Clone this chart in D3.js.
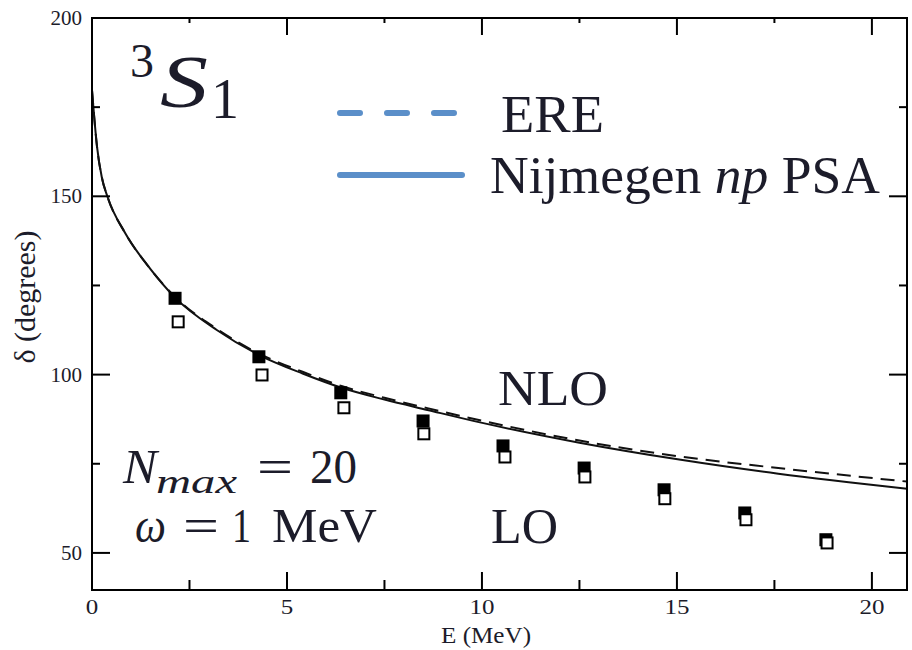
<!DOCTYPE html>
<html>
<head>
<meta charset="utf-8">
<script src="https://cdn.jsdelivr.net/npm/d3@7"></script>
<style>
  body { margin: 0; background: #fff; }
</style>
</head>
<body>
<div id="chart"></div>
<script>
// tick values
var xMajor = [0, 5, 10, 15, 20];
var xMinor = [2.5, 7.5, 12.5, 17.5];
var yMajor = [50, 100, 150, 200];
var yMinor = [75, 125, 175];

// Nijmegen np PSA curve (solid) and ERE curve (dashed)
var curveE     = [0, 0.13, 0.25, 0.4, 0.85, 1.5, 2.13, 3.2, 4.3, 5.4, 6.4, 7.5, 8.6, 9.95, 12.5, 15.1, 17.6, 20.9];
var psaDelta   = [179.8, 163.8, 155.4, 149.8, 139.7, 129.6, 121.6, 112.5, 105.4, 100.3, 96.3, 93.0, 90.1, 86.6, 80.9, 76.1, 72.2, 68.0];
var ereDelta   = [179.8, 163.8, 155.4, 149.8, 139.7, 129.6, 121.8, 112.8, 105.8, 100.8, 96.8, 93.5, 90.6, 87.2, 81.5, 77.0, 73.8, 70.0];

// NLO (filled squares) and LO (open squares)
var nloE     = [2.13, 4.28, 6.38, 8.49, 10.54, 12.62, 14.67, 16.74, 18.82];
var nloDelta = [121.4, 105.0, 94.9, 87.0, 80.0, 73.8, 67.7, 61.2, 53.7];
var loE      = [2.21, 4.36, 6.46, 8.51, 10.59, 12.64, 14.69, 16.77, 18.85];
var loDelta  = [114.8, 99.9, 90.7, 83.4, 76.9, 71.3, 65.2, 59.3, 52.8];

(function draw() {
    "use strict";

    var width = 912, height = 650;
    var plotLeft = 92, plotRight = 907, plotTop = 18, plotBottom = 590;
    var serif = "'Liberation Serif', 'Times New Roman', Times, serif";

    var svg = d3.select("#chart").append("svg")
        .attr("width", width)
        .attr("height", height)
        .attr("font-family", serif);

    var x = d3.scaleLinear().domain([0, 20.9]).range([plotLeft, plotRight]);
    var y = d3.scaleLinear().domain([39.6, 200]).range([plotBottom, plotTop]);

    var zip = function(xs, ys) {
        return xs.map(function(v, i) { return [v, ys[i]]; });
    };

    // clip for curves
    svg.append("clipPath").attr("id", "plotclip")
        .append("rect")
        .attr("x", plotLeft - 2).attr("y", plotTop)
        .attr("width", plotRight - plotLeft + 2).attr("height", plotBottom - plotTop);

    var line = d3.line()
        .x(function(d) { return x(d[0]); })
        .y(function(d) { return y(d[1]); })
        .curve(d3.curveMonotoneX);

    var plot = svg.append("g").attr("clip-path", "url(#plotclip)");

    plot.append("path")
        .datum(zip(curveE, ereDelta))
        .attr("d", line)
        .attr("fill", "none")
        .attr("stroke", "#111")
        .attr("stroke-width", 2)
        .attr("stroke-dasharray", "14,8");

    plot.append("path")
        .datum(zip(curveE, psaDelta))
        .attr("d", line)
        .attr("fill", "none")
        .attr("stroke", "#111")
        .attr("stroke-width", 2);

    var sq = 13;
    svg.append("g").selectAll("rect")
        .data(zip(nloE, nloDelta))
        .enter().append("rect")
        .attr("x", function(d) { return x(d[0]) - sq / 2; })
        .attr("y", function(d) { return y(d[1]) - sq / 2; })
        .attr("width", sq).attr("height", sq)
        .attr("fill", "#000");

    svg.append("g").selectAll("rect")
        .data(zip(loE, loDelta))
        .enter().append("rect")
        .attr("x", function(d) { return x(d[0]) - (sq - 2) / 2; })
        .attr("y", function(d) { return y(d[1]) - (sq - 2) / 2; })
        .attr("width", sq - 2).attr("height", sq - 2)
        .attr("fill", "#fff")
        .attr("stroke", "#000")
        .attr("stroke-width", 2);

    // frame
    svg.append("rect")
        .attr("x", plotLeft).attr("y", plotTop)
        .attr("width", plotRight - plotLeft).attr("height", plotBottom - plotTop)
        .attr("fill", "none")
        .attr("stroke", "#000")
        .attr("stroke-width", 2);

    // ticks
    var ticks = svg.append("g").attr("stroke", "#000").attr("stroke-width", 2);
    xMajor.forEach(function(v) {
        ticks.append("line").attr("x1", x(v)).attr("x2", x(v)).attr("y1", plotBottom).attr("y2", plotBottom - 18);
        ticks.append("line").attr("x1", x(v)).attr("x2", x(v)).attr("y1", plotTop).attr("y2", plotTop + 17);
    });
    xMinor.forEach(function(v) {
        ticks.append("line").attr("x1", x(v)).attr("x2", x(v)).attr("y1", plotBottom).attr("y2", plotBottom - 10);
        ticks.append("line").attr("x1", x(v)).attr("x2", x(v)).attr("y1", plotTop).attr("y2", plotTop + 5);
    });
    yMajor.forEach(function(v) {
        ticks.append("line").attr("x1", plotLeft).attr("x2", plotLeft + 18).attr("y1", y(v)).attr("y2", y(v));
        ticks.append("line").attr("x1", plotRight).attr("x2", plotRight - 18).attr("y1", y(v)).attr("y2", y(v));
    });
    yMinor.forEach(function(v) {
        ticks.append("line").attr("x1", plotLeft).attr("x2", plotLeft + 8).attr("y1", y(v)).attr("y2", y(v));
        ticks.append("line").attr("x1", plotRight).attr("x2", plotRight - 8).attr("y1", y(v)).attr("y2", y(v));
    });

    var ink = "#1c1c2a";
    var addText = function(px, py, size, str, opts) {
        opts = opts || {};
        var t = svg.append("text")
            .attr("x", px).attr("y", py)
            .attr("fill", ink)
            .style("font-size", size + "px")
            .text(str);
        if (opts.italic) { t.style("font-style", "italic"); }
        if (opts.anchor) { t.attr("text-anchor", opts.anchor); }
        if (opts.len) { t.attr("textLength", opts.len).attr("lengthAdjust", "spacingAndGlyphs"); }
        return t;
    };

    // tick labels
    xMajor.forEach(function(v) {
        addText(x(v), 614, 20, String(v), { anchor: "middle", len: String(v).length * 12.5 });
    });
    yMajor.forEach(function(v) {
        addText(82, y(v) + 7, 21, String(v), { anchor: "end", len: String(v).length * 10.5 });
    });

    // axis titles
    addText(486, 643, 23, "E (MeV)", { anchor: "middle", len: 90 });
    addText(0, 0, 29, "δ (degrees)", { anchor: "middle", len: 133 })
        .attr("transform", "translate(35,297) rotate(-90)");

    // 3S1 label
    addText(130, 77, 48, "3");
    addText(160, 107, 74, "S", { italic: true, len: 48 });
    addText(211, 118, 56, "1");

    // legend
    var legendColor = "#5b8fc9";
    svg.append("line")
        .attr("x1", 340).attr("x2", 455).attr("y1", 113).attr("y2", 113)
        .attr("stroke", legendColor).attr("stroke-width", 6)
        .attr("stroke-linecap", "round")
        .attr("stroke-dasharray", "20,27");
    svg.append("line")
        .attr("x1", 340).attr("x2", 462).attr("y1", 175).attr("y2", 175)
        .attr("stroke", legendColor).attr("stroke-width", 6)
        .attr("stroke-linecap", "round");

    addText(501, 132, 52, "ERE", { len: 103 });

    var nij = addText(490, 193, 52, "", { len: 390 });
    nij.append("tspan").text("Nijmegen ");
    nij.append("tspan").style("font-style", "italic").text("np");
    nij.append("tspan").text(" PSA");

    // order labels
    addText(498, 405, 50, "NLO", { len: 110 });
    addText(491, 543, 50, "LO", { len: 67 });

    // Nmax = 20
    addText(123, 483, 48, "N", { italic: true, len: 34 });
    addText(156, 493, 34, "max", { italic: true, len: 81 });
    addText(257, 483, 48, "=", { len: 36 });
    addText(310, 483, 48, "20", { len: 47 });

    // omega = 1 MeV
    addText(135, 542, 48, "ω", { italic: true, len: 31 });
    addText(183, 542, 48, "=", { len: 36 });
    addText(232, 542, 48, "1", { len: 19 });
    addText(272, 542, 48, "MeV", { len: 105 });
})();
</script>
</body>
</html>
